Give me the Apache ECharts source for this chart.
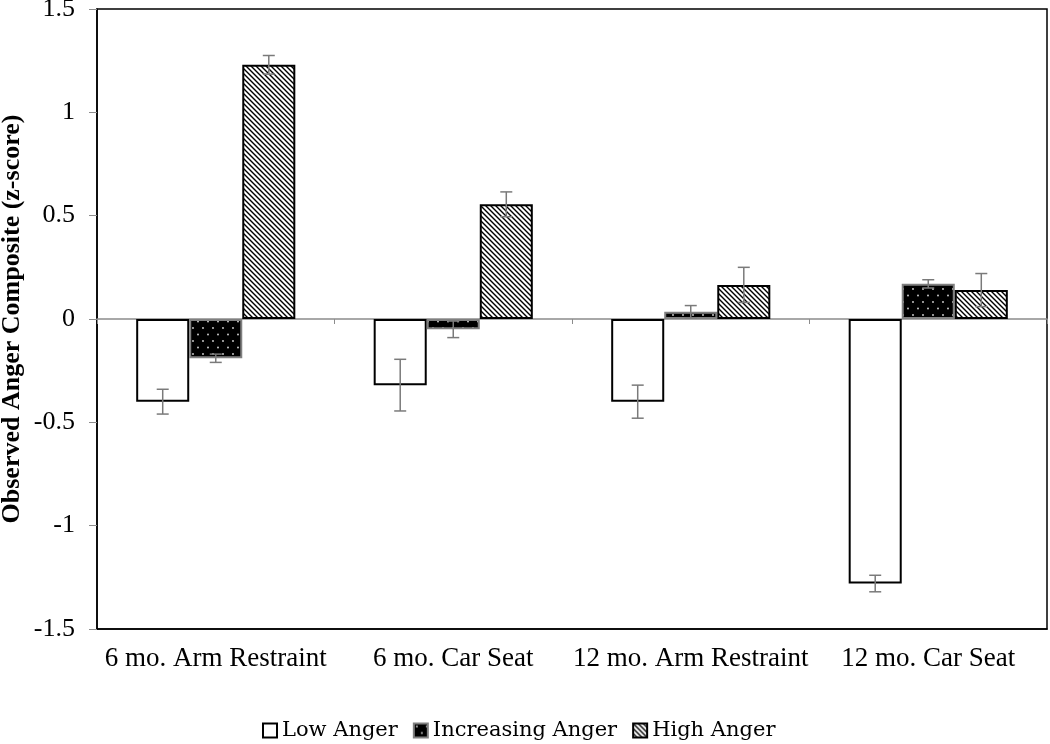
<!DOCTYPE html>
<html>
<head>
<meta charset="utf-8">
<script src="https://cdn.jsdelivr.net/npm/echarts@6/dist/echarts.min.js"></script>
<style>html,body{margin:0;padding:0;background:#fff;}#c{width:1050px;height:744px;}</style>
</head>
<body>
<div id="c"></div>
<script>
const categories = ['6 mo. Arm Restraint', '6 mo. Car Seat', '12 mo. Arm Restraint', '12 mo. Car Seat'];
const seriesNames = ['Low Anger', 'Increasing Anger', 'High Anger'];
const lowAnger = [-0.40, -0.32, -0.40, -1.28];
const increasingAnger = [-0.19, -0.05, 0.035, 0.17];
const highAnger = [1.23, 0.555, 0.165, 0.14];
const lowErr = [0.06, 0.125, 0.08, 0.04];
const incErr = [0.02, 0.04, 0.03, 0.02];
const highErr = [0.045, 0.06, 0.085, 0.08];
const yTicks = [-1.5, -1, -0.5, 0, 0.5, 1, 1.5];

const SERIF = "'Liberation Serif', 'Times New Roman', Times, serif";

function hatchPattern() {
  const s = 5;
  const c = document.createElement('canvas');
  c.width = s; c.height = s;
  const g = c.getContext('2d');
  g.fillStyle = '#fff'; g.fillRect(0, 0, s, s);
  g.strokeStyle = '#000'; g.lineWidth = 1.4;
  g.beginPath();
  g.moveTo(-1, -1); g.lineTo(s + 1, s + 1);
  g.moveTo(-1, s - 1); g.lineTo(1, s + 1);
  g.moveTo(s - 1, -1); g.lineTo(s + 1, 1);
  g.stroke();
  return c;
}
function dotPattern() {
  const w = 10, h = 13;
  const c = document.createElement('canvas');
  c.width = w; c.height = h;
  const g = c.getContext('2d');
  g.fillStyle = '#000'; g.fillRect(0, 0, w, h);
  g.fillStyle = '#d8d8d8';
  g.beginPath(); g.arc(3, 3, 0.9, 0, Math.PI * 2); g.fill();
  g.beginPath(); g.arc(8, 9.5, 0.9, 0, Math.PI * 2); g.fill();
  return c;
}

const values = [lowAnger, increasingAnger, highAnger];
const errs = [lowErr, incErr, highErr];
const fills = [
  '#ffffff',
  { image: dotPattern(), repeat: 'repeat' },
  { image: hatchPattern(), repeat: 'repeat' }
];
const borders = ['#000000', '#808080', '#000000'];

const BAR_GAP_CAT = 0.33;
const series = [];
seriesNames.forEach((name, i) => {
  series.push({
    name: name,
    type: 'bar',
    xAxisIndex: 0,
    data: values[i],
    barGap: '0%',
    barCategoryGap: (BAR_GAP_CAT * 100) + '%',
    itemStyle: { color: fills[i], borderColor: borders[i], borderWidth: 2 },
    emphasis: { disabled: true },
    z: 2
  });
});
seriesNames.forEach((name, i) => {
  series.push({
    type: 'custom',
    xAxisIndex: 0,
    data: values[i].map((v, k) => [k, v, errs[i][k]]),
    z: 5,
    silent: true,
    renderItem: function (params, api) {
      const k = api.value(0), v = api.value(1), e = api.value(2);
      const band = api.size([1, 0])[0];
      const bw = band * (1 - BAR_GAP_CAT) / 3;
      const c = api.coord([k, v]);
      const x = c[0] + (i - 1) * bw;
      const yT = api.coord([k, v + e])[1];
      const yB = api.coord([k, v - e])[1];
      const cap = 6;
      const st = { stroke: '#7a7a7a', lineWidth: 1.5 };
      return {
        type: 'group',
        children: [
          { type: 'line', shape: { x1: x, y1: yT, x2: x, y2: yB }, style: st },
          { type: 'line', shape: { x1: x - cap, y1: yT, x2: x + cap, y2: yT }, style: st },
          { type: 'line', shape: { x1: x - cap, y1: yB, x2: x + cap, y2: yB }, style: st }
        ]
      };
    }
  });
});

const chart = echarts.init(document.getElementById('c'), null, { renderer: 'canvas' });
chart.setOption({
  animation: false,
  backgroundColor: '#ffffff',
  grid: { left: 97, right: 3, top: 9, bottom: 115, containLabel: false, outerBoundsMode: 'none', show: true, borderColor: '#000', borderWidth: 1.5, backgroundColor: 'transparent' },
  legend: {
    data: seriesNames,
    bottom: 3,
    left: 262,
    padding: 0,
    itemWidth: 14,
    itemHeight: 14,
    itemGap: 15,
    icon: 'rect',
    textStyle: { fontFamily: 'DejaVu Serif', fontSize: 21, color: '#000' }
  },
  xAxis: [
    {
      type: 'category',
      data: categories,
      position: 'bottom',
      axisLine: { show: true, onZero: false, lineStyle: { color: '#000', width: 1.5 } },
      axisTick: { show: false },
      axisLabel: { interval: 0, fontFamily: SERIF, fontSize: 27, color: '#000', margin: 16 },
      splitLine: { show: false }
    },
    {
      type: 'category',
      data: categories,
      position: 'bottom',
      axisLine: { show: true, onZero: true, lineStyle: { color: '#8c8c8c', width: 1.5 } },
      axisTick: { show: true, length: 5, lineStyle: { color: '#8c8c8c' } },
      axisLabel: { show: false },
      splitLine: { show: false }
    }
  ],
  yAxis: {
    type: 'value',
    min: yTicks[0],
    max: yTicks[yTicks.length - 1],
    interval: 0.5,
    name: 'Observed Anger Composite (z-score)',
    nameLocation: 'middle',
    nameGap: 72,
    nameMoveOverlap: false,
    nameTextStyle: { fontFamily: SERIF, fontSize: 26, fontWeight: 'bold', color: '#000' },
    axisLine: { show: true, lineStyle: { color: '#000', width: 1.5 } },
    axisTick: { show: true, length: 8, lineStyle: { color: '#8c8c8c' } },
    axisLabel: { fontFamily: SERIF, fontSize: 26, color: '#000', margin: 22 },
    splitLine: { show: false }
  },
  series: series
});
</script>
</body>
</html>
